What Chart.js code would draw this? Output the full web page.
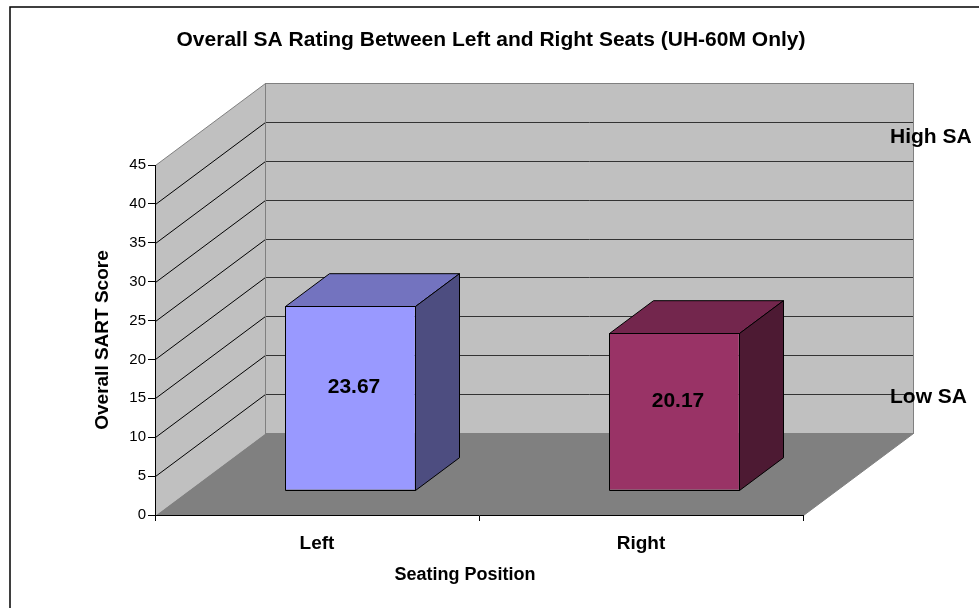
<!DOCTYPE html>
<html>
<head>
<meta charset="utf-8">
<script src="https://cdn.jsdelivr.net/npm/chart.js@4.4.1/dist/chart.umd.min.js"></script>
<style>
  html, body { margin: 0; padding: 0; background: #fff; }
</style>
</head>
<body>
<canvas id="saChart" width="979" height="608"></canvas>
<script>
// Datos del gráfico
const categories = ['Left', 'Right'];
const sartScores = [23.67, 20.17];
const yMin = 0;
const yMax = 45;
const yStep = 5;
const bandLabels = ['High SA', 'Low SA'];

const FONT = "'Liberation Sans', Arial, sans-serif";
const DEPTH = { x: 110, y: -82 };   // desplazamiento hacia la pared del fondo
const BAR_FRONT = 0.3;              // fracción de profundidad donde empieza la barra
const BAR_DEPTH = 0.4;              // profundidad de la barra
const FACE_COLORS = {
  front: ['#9999FF', '#993366'],
  top: ['#7373BF', '#73264D'],
  side: ['#4D4D80', '#4D1A33']
};

function poly(ctx, pts, fill, stroke) {
  ctx.beginPath();
  pts.forEach(([x, y], i) => (i ? ctx.lineTo(x, y) : ctx.moveTo(x, y)));
  ctx.closePath();
  if (fill) { ctx.fillStyle = fill; ctx.fill(); }
  if (stroke) { ctx.strokeStyle = stroke; ctx.stroke(); }
}

function line(ctx, x1, y1, x2, y2, color) {
  ctx.beginPath();
  ctx.moveTo(x1, y1);
  ctx.lineTo(x2, y2);
  ctx.strokeStyle = color;
  ctx.stroke();
}

/**
 * Paredes y piso en 3D, con las líneas de la escala Y.
 */
const wallsPlugin = {
  id: 'walls',
  beforeDraw(chart) {
    const { ctx, chartArea: a, scales: { y } } = chart;
    const dx = DEPTH.x, dy = DEPTH.y;
    const L = a.left + 0.5, R = a.right + 0.5, T = a.top + 0.5, B = a.bottom + 0.5;
    ctx.save();
    ctx.fillStyle = '#fff';
    ctx.fillRect(0, 0, chart.width, chart.height);

    // marco exterior
    ctx.lineWidth = 1.5;
    ctx.strokeStyle = '#000';
    ctx.strokeRect(10, 7, chart.width + 20, chart.height + 20);

    ctx.lineWidth = 1;
    // pared lateral y piso
    poly(ctx, [[L, T], [L + dx, T + dy], [L + dx, B + dy], [L, B]], '#C0C0C0');
    poly(ctx, [[L, B], [L + dx, B + dy], [R + dx, B + dy], [R, B]], '#808080');
    // pared del fondo
    ctx.fillStyle = '#C0C0C0';
    ctx.fillRect(L + dx, T + dy, a.width, a.height);

    // líneas de división
    for (let v = yMin + yStep; v < yMax; v += yStep) {
      const py = Math.round(y.getPixelForValue(v)) + 0.5;
      line(ctx, L + dx, py + dy, R + dx, py + dy, '#333');
      line(ctx, L, py, L + dx, py + dy, '#000');
    }

    // bordes
    ctx.strokeStyle = '#808080';
    ctx.strokeRect(L + dx, T + dy, a.width, a.height);
    line(ctx, L, T, L + dx, T + dy, '#808080');
    line(ctx, R, B, R + dx, B + dy, '#808080');
    ctx.restore();
  },
  afterDraw(chart) {
    const { ctx, chartArea: a } = chart;
    ctx.save();
    ctx.fillStyle = '#000';
    ctx.textBaseline = 'middle';
    // título
    ctx.font = `bold 21px ${FONT}`;
    ctx.textAlign = 'center';
    ctx.fillText('Overall SA Rating Between Left and Right Seats (UH-60M Only)', 491, 40);
    // título del eje X
    ctx.font = `bold 18px ${FONT}`;
    ctx.fillText('Seating Position', (a.left + a.right) / 2 - 14, a.bottom + 60);
    // etiquetas de banda
    ctx.font = `bold 21px ${FONT}`;
    ctx.textAlign = 'left';
    ctx.fillText(bandLabels[0], a.right + 87, a.top - 28);
    ctx.fillText(bandLabels[1], a.right + 87, a.bottom - 118);
    ctx.restore();
  }
};

/**
 * Dibuja las barras desplazadas en profundidad con caras superior y lateral.
 */
const barDepthPlugin = {
  id: 'barDepth',
  beforeDatasetsDraw(chart) {
    chart.ctx.save();
    chart.ctx.translate(Math.round(DEPTH.x * BAR_FRONT), Math.round(DEPTH.y * BAR_FRONT));
  },
  afterDatasetsDraw(chart) {
    const { ctx } = chart;
    const ox = DEPTH.x * BAR_DEPTH, oy = DEPTH.y * BAR_DEPTH;
    const meta = chart.getDatasetMeta(0);
    ctx.lineWidth = 1;
    ctx.lineJoin = 'round';
    meta.data.forEach((bar, i) => {
      const { x, y, base, width } = bar.getProps(['x', 'y', 'base', 'width'], true);
      const l = Math.round(x - width / 2) + 0.5;
      const r = Math.round(x + width / 2) + 0.5;
      const t = Math.round(y) + 0.5;
      const b = Math.round(base) + 0.5;
      poly(ctx, [[l, t], [l + ox, t + oy], [r + ox, t + oy], [r, t]], FACE_COLORS.top[i], '#000');
      poly(ctx, [[r, t], [r + ox, t + oy], [r + ox, b + oy], [r, b]], FACE_COLORS.side[i], '#000');
      poly(ctx, [[l, t], [r, t], [r, b], [l, b]], null, '#000');
    });
    // valores
    ctx.fillStyle = '#000';
    ctx.font = `bold 21px ${FONT}`;
    ctx.textAlign = 'center';
    ctx.textBaseline = 'middle';
    meta.data.forEach((bar, i) => {
      const { x, y, base } = bar.getProps(['x', 'y', 'base'], true);
      ctx.fillText(sartScores[i].toFixed(2), x + 4, (y + base) / 2 - 10);
    });
    ctx.restore();
  }
};

new Chart(document.getElementById('saChart'), {
  type: 'bar',
  data: {
    labels: categories,
    datasets: [{
      data: sartScores,
      backgroundColor: FACE_COLORS.front,
      borderWidth: 0,
      barPercentage: 0.4,
      categoryPercentage: 1
    }]
  },
  options: {
    responsive: false,
    animation: false,
    events: [],
    layout: { padding: { left: 91, top: 165, right: 176, bottom: 23 } },
    plugins: {
      legend: { display: false },
      tooltip: { enabled: false },
      title: { display: false }
    },
    scales: {
      x: {
        grid: { drawOnChartArea: false, tickLength: 6, color: '#000', offset: true },
        border: { color: '#000' },
        ticks: { color: '#000', padding: 11, font: { family: FONT, size: 19, weight: 'bold' } },
        afterFit(scale) { scale.height = 70; }
      },
      y: {
        min: yMin,
        max: yMax,
        grid: { drawOnChartArea: false, tickLength: 7, color: '#000' },
        border: { color: '#000' },
        ticks: { stepSize: yStep, color: '#000', padding: 2, font: { family: FONT, size: 15 } },
        title: {
          display: true,
          text: 'Overall SART Score',
          color: '#000',
          padding: 0,
          font: { family: FONT, size: 19, weight: 'bold' }
        },
        afterFit(scale) { scale.width = 64; }
      }
    }
  },
  plugins: [wallsPlugin, barDepthPlugin]
});
</script>
</body>
</html>
